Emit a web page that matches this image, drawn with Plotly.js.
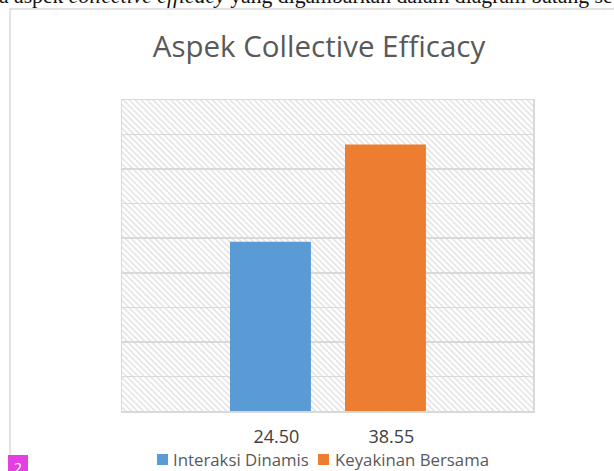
<!DOCTYPE html>
<html>
<head>
<meta charset="utf-8">
<script src="https://cdn.plot.ly/plotly-3.0.1.min.js"></script>
<style>html,body{margin:0;padding:0;background:#fff;}#chart{width:614px;height:471px;}</style>
</head>
<body>
<div id="chart"></div>
<script>
// ---- data ----
const categories = ["24.50", "38.55"];
const seriesNames = ["Interaksi Dinamis", "Keyakinan Bersama"];
const seriesValues = [24.50, 38.55];
const seriesColors = ["#5B9BD5", "#ED7D31"];
const chartTitle = "Aspek Collective Efficacy";

// ---- geometry helpers (pixel -> paper) ----
const W = 614, H = 471;
const M = {l: 122, r: 81, t: 100, b: 60, autoexpand: false};
const PW = W - M.l - M.r, PH = H - M.t - M.b;
const px = x => (x - M.l) / PW;
const py = y => (H - M.b - y) / PH;

const hatchSvg = "<svg xmlns='http://www.w3.org/2000/svg' width='" + PW + "' height='" + PH + "'>" +
  "<defs><pattern id='p' width='4.2' height='4.2' patternUnits='userSpaceOnUse' patternTransform='rotate(-45)'>" +
  "<rect width='4.2' height='4.2' fill='#ffffff'/>" +
  "<line x1='1' y1='0' x2='1' y2='4.2' stroke='#e2e2e2' stroke-width='1.5'/></pattern></defs>" +
  "<rect width='" + PW + "' height='" + PH + "' fill='url(#p)'/></svg>";
const hatchUri = "data:image/svg+xml;charset=utf-8," + encodeURIComponent(hatchSvg);

const traces = seriesNames.map((name, i) => ({
  type: "bar",
  name: name,
  x: [categories[i]],
  y: [seriesValues[i]],
  width: 0.704,
  marker: {color: seriesColors[i], line: {width: 0}},
  hoverinfo: "none",
  showlegend: false
}));

// legend drawn as key squares + labels (Excel-style compact legend)
const legendSquares = [157, 318];
const legendText = [172, 334];
const legendShapes = seriesNames.map((n, i) => ({
  type: "rect", xref: "paper", yref: "paper",
  x0: px(legendSquares[i]), x1: px(legendSquares[i] + 11),
  y0: py(465), y1: py(454),
  line: {width: 0}, fillcolor: seriesColors[i]
}));
const legendAnns = seriesNames.map((n, i) => ({
  xref: "paper", yref: "paper", x: px(legendText[i] - 1), y: py(459.5),
  xanchor: "left", yanchor: "middle", showarrow: false, text: n,
  font: {family: "Open Sans, sans-serif", size: 16.8, color: "#595959"}
}));

const layout = {
  width: W, height: H,
  margin: M,
  paper_bgcolor: "#ffffff",
  plot_bgcolor: "rgba(0,0,0,0)",
  barmode: "overlay",
  showlegend: false,
  title: {
    text: chartTitle,
    x: 319 / W, xanchor: "center",
    y: 1 - 47 / H, yanchor: "middle",
    font: {family: "Open Sans, sans-serif", size: 29.5, color: "#595959"}
  },
  xaxis: {
    type: "category",
    categoryorder: "array",
    categoryarray: categories,
    range: [-1.291, 2.283],
    showgrid: false,
    zeroline: false,
    showline: true, mirror: true, linecolor: "#d9d9d9", linewidth: 1.5,
    ticks: "",
    ticklabelshift: 6,
    ticklabelstandoff: 9,
    tickfont: {family: "Open Sans, sans-serif", size: 18, color: "#404040"}
  },
  yaxis: {
    range: [0, 45],
    dtick: 5,
    showgrid: true, gridcolor: "#d9d9d9", gridwidth: 1.5,
    zeroline: false,
    showline: true, mirror: true, linecolor: "#d9d9d9", linewidth: 1.5,
    showticklabels: false,
    ticks: ""
  },
  images: [{
    source: hatchUri,
    xref: "paper", yref: "paper",
    x: 0, y: 1, sizex: 1, sizey: 1,
    xanchor: "left", yanchor: "top",
    sizing: "stretch", layer: "below"
  }],
  shapes: [
    {type: "rect", xref: "paper", yref: "paper",
     x0: px(10), x1: px(640), y0: py(500), y1: py(9),
     line: {color: "#d9d9d9", width: 1.5}, fillcolor: "rgba(0,0,0,0)", layer: "below"},
    {type: "rect", xref: "paper", yref: "paper",
     x0: px(8), x1: px(28), y0: py(480), y1: py(455),
     line: {width: 0}, fillcolor: "#E43FE0"}
  ].concat(legendShapes),
  annotations: [
    {xref: "paper", yref: "paper", x: px(-3), y: py(10), xanchor: "left", yanchor: "bottom",
     showarrow: false,
     text: "a aspek <i>collective efficacy</i> yang digambarkan dalam diagram batang se",
     font: {family: "Liberation Serif, Times New Roman, serif", size: 21.7, color: "#111111"}},
    {xref: "paper", yref: "paper", x: px(18), y: py(467), xanchor: "center", yanchor: "middle",
     showarrow: false, text: "2",
     font: {family: "Open Sans, sans-serif", size: 14, color: "#ffffff"}}
  ].concat(legendAnns)
};

Plotly.newPlot("chart", traces, layout, {displayModeBar: false, staticPlot: true});
</script>
</body>
</html>
